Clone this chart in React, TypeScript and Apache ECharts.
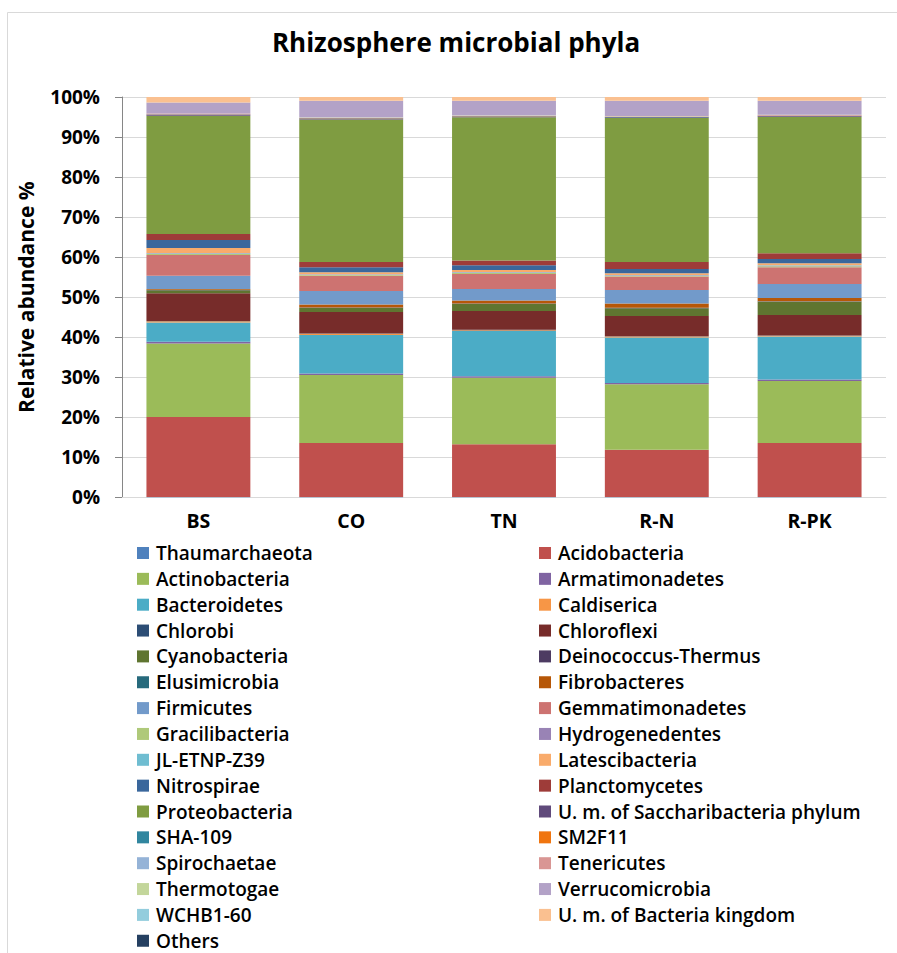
import React, { useEffect, useRef } from "react";
import * as echarts from "echarts";

const categories = ["BS", "CO", "TN", "R-N", "R-PK"];

const phyla = [
  "Thaumarchaeota", "Acidobacteria", "Actinobacteria", "Armatimonadetes",
  "Bacteroidetes", "Caldiserica", "Chlorobi", "Chloroflexi",
  "Cyanobacteria", "Deinococcus-Thermus", "Elusimicrobia", "Fibrobacteres",
  "Firmicutes", "Gemmatimonadetes", "Gracilibacteria", "Hydrogenedentes",
  "JL-ETNP-Z39", "Latescibacteria", "Nitrospirae", "Planctomycetes",
  "Proteobacteria", "U. m. of Saccharibacteria phylum", "SHA-109", "SM2F11",
  "Spirochaetae", "Tenericutes", "Thermotogae", "Verrucomicrobia",
  "WCHB1-60", "U. m. of Bacteria kingdom", "Others",
];

const colors = [
  "#4F81BD", "#C0504D", "#9BBB59", "#8064A2",
  "#4BACC6", "#F79646", "#2C4D75", "#772C2A",
  "#5F7530", "#4D3B62", "#276A7C", "#B65708",
  "#729ACA", "#CD7371", "#AFC97A", "#9983B5",
  "#6FBDD1", "#F9AB6B", "#3A679C", "#9E3C39",
  "#7F9C41", "#604A7B", "#31869F", "#F0750F",
  "#95B3D7", "#D99694", "#C3D69B", "#B3A2C7",
  "#93CDDD", "#FAC090", "#254061",
];

// values per phylum, order: BS, CO, TN, R-N, R-PK (relative abundance %)
const thaumarchaeota = [0.05, 0.05, 0.05, 0.05, 0.05];
const acidobacteria = [20.0, 13.5, 13.2, 11.8, 13.5];
const actinobacteria = [18.4, 17.0, 16.6, 16.4, 15.5];
const armatimonadetes = [0.4, 0.4, 0.4, 0.3, 0.4];
const bacteroidetes = [4.8, 9.6, 11.3, 11.4, 10.7];
const caldiserica = [0.3, 0.3, 0.2, 0.2, 0.2];
const chlorobi = [0.1, 0.1, 0.1, 0.1, 0.1];
const chloroflexi = [6.9, 5.35, 4.7, 5.05, 5.1];
const cyanobacteria = [0.8, 1.0, 1.75, 1.95, 3.3];
const deinococcus = [0.05, 0.05, 0.05, 0.05, 0.05];
const elusimicrobia = [0.05, 0.05, 0.05, 0.05, 0.05];
const fibrobacteres = [0.2, 0.75, 0.75, 1.05, 0.85];
const firmicutes = [3.3, 3.4, 2.9, 3.4, 3.5];
const gemmatimonadetes = [5.2, 3.8, 3.75, 3.35, 4.15];
const gracilibacteria = [0.3, 0.2, 0.3, 0.2, 0.3];
const hydrogenedentes = [0.1, 0.1, 0.1, 0.1, 0.1];
const jlEtnp = [0.1, 0.1, 0.1, 0.1, 0.1];
const latescibacteria = [1.25, 0.5, 0.5, 0.4, 0.5];
const nitrospirae = [1.95, 1.2, 1.15, 1.1, 1.1];
const planctomycetes = [1.55, 1.3, 1.2, 1.7, 1.4];
const proteobacteria = [29.5, 35.6, 35.8, 36.0, 34.1];
const saccharibacteria = [0.3, 0.3, 0.2, 0.2, 0.2];
const sha109 = [0.05, 0.05, 0.05, 0.05, 0.05];
const sm2f11 = [0.05, 0.05, 0.05, 0.05, 0.05];
const spirochaetae = [0.05, 0.05, 0.05, 0.05, 0.05];
const tenericutes = [0.1, 0.1, 0.1, 0.1, 0.1];
const thermotogae = [0.05, 0.05, 0.05, 0.05, 0.05];
const verrucomicrobia = [2.75, 4.1, 3.6, 3.8, 3.5];
const wchb160 = [0, 0, 0, 0, 0];
const bacteriaKingdom = [1.35, 0.95, 0.95, 0.95, 0.95];
const others = [0, 0, 0, 0, 0];

const seriesValues = [
  thaumarchaeota, acidobacteria, actinobacteria, armatimonadetes,
  bacteroidetes, caldiserica, chlorobi, chloroflexi,
  cyanobacteria, deinococcus, elusimicrobia, fibrobacteres,
  firmicutes, gemmatimonadetes, gracilibacteria, hydrogenedentes,
  jlEtnp, latescibacteria, nitrospirae, planctomycetes,
  proteobacteria, saccharibacteria, sha109, sm2f11,
  spirochaetae, tenericutes, thermotogae, verrucomicrobia,
  wchb160, bacteriaKingdom, others,
];

const yTicks = { min: 0, max: 100, interval: 10 };

const FONT = "'Open Sans', 'Noto Sans', sans-serif";

export default function App() {
  const ref = useRef<HTMLDivElement>(null);

  useEffect(() => {
    if (!ref.current) return;
    const chart = echarts.init(ref.current, undefined, { renderer: "svg" });

    const leftNames = phyla.filter((_, i) => i % 2 === 0);
    const rightNames = phyla.filter((_, i) => i % 2 === 1);

    const legendText = {
      fontFamily: FONT,
      fontSize: 19,
      fontWeight: 600,
      color: "#000",
      lineHeight: 20,
      padding: [0, 0, 0, 2],
    };

    const option: any = {
      animation: false,
      color: colors,
      graphic: [
        {
          type: "rect",
          shape: { x: 7.5, y: 12.5, width: 1000, height: 1000 },
          style: { fill: "none", stroke: "#D9D9D9", lineWidth: 1 },
          silent: true,
        },
        {
          type: "text",
          x: 456,
          y: 42,
          style: {
            text: "Rhizosphere microbial phyla",
            fontFamily: FONT,
            fontSize: 26,
            fontWeight: "bold",
            fill: "#000",
            textAlign: "center",
            textVerticalAlign: "middle",
          },
        },
      ],
      grid: { left: 122, right: 11, top: 97, bottom: 455.7, containLabel: false },
      legend: [
        {
          orient: "vertical",
          left: 137,
          top: 543,
          height: 440,
          padding: 0,
          itemWidth: 12,
          itemHeight: 12,
          itemGap: 5.85,
          icon: "rect",
          selectedMode: false,
          data: leftNames,
          textStyle: legendText,
        },
        {
          orient: "vertical",
          left: 539,
          top: 543,
          height: 440,
          padding: 0,
          itemWidth: 12,
          itemHeight: 12,
          itemGap: 5.85,
          icon: "rect",
          selectedMode: false,
          data: rightNames,
          textStyle: legendText,
        },
      ],
      xAxis: {
        type: "category",
        data: categories,
        axisLine: { show: true, lineStyle: { color: "#D9D9D9", width: 1 } },
        axisTick: { show: false },
        axisLabel: {
          margin: 13,
          fontFamily: FONT,
          fontSize: 19.5,
          fontWeight: "bold",
          color: "#000",
        },
      },
      yAxis: {
        type: "value",
        min: yTicks.min,
        max: yTicks.max,
        interval: yTicks.interval,
        name: "Relative abundance %",
        nameLocation: "middle",
        nameGap: 86,
        nameRotate: 90,
        nameTextStyle: {
          fontFamily: FONT,
          fontSize: 21,
          fontWeight: "bold",
          color: "#000",
        },
        axisLine: { show: true, lineStyle: { color: "#868686", width: 1 } },
        axisTick: { show: true, length: 7, lineStyle: { color: "#868686" } },
        axisLabel: {
          formatter: "{value}%",
          margin: 22,
          fontFamily: FONT,
          fontSize: 19,
          fontWeight: "bold",
          color: "#000",
        },
        splitLine: { show: true, lineStyle: { color: "#D9D9D9", width: 1 } },
      },
      series: phyla.map((name, i) => ({
        name,
        type: "bar",
        stack: "total",
        barCategoryGap: "32%",
        data: seriesValues[i],
        itemStyle: { color: colors[i] },
        emphasis: { disabled: true },
      })),
    };

    chart.setOption(option);
    return () => chart.dispose();
  }, []);

  return (
    <div
      ref={ref}
      style={{ position: "absolute", left: 0, top: 0, width: 897, height: 953, background: "#fff" }}
    />
  );
}
